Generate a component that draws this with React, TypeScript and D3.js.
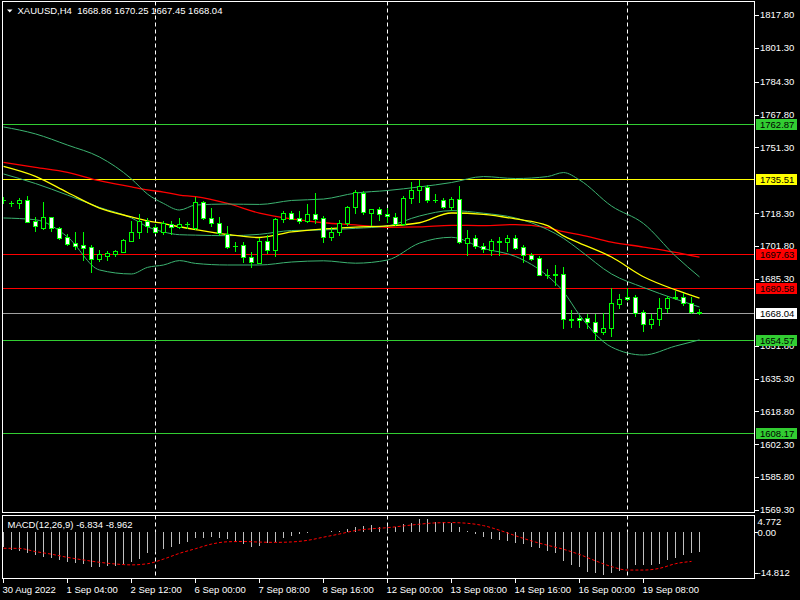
import React from 'react';
import * as d3 from 'd3';

// ---- price data (H4 bars) ----
const open = [1724.68,1723.27,1723.27,1724.93,1714.39,1711.02,1716.25,1710.72,1706.51,1703.19,1702.34,1701.34,1695.31,1696.82,1697.97,1698.98,1704.50,1708.72,1714.54,1711.38,1708.72,1712.73,1711.53,1712.73,1710.72,1723.78,1715.74,1713.23,1707.86,1701.99,1702.19,1696.17,1693.45,1704.35,1699.83,1715.24,1718.25,1715.74,1714.54,1717.75,1715.74,1706.21,1708.72,1713.53,1721.27,1728.29,1718.55,1720.26,1717.75,1716.55,1712.73,1725.78,1729.95,1731.61,1724.93,1724.93,1721.27,1725.43,1703.19,1705.70,1701.84,1699.83,1704.00,1704.00,1705.70,1701.19,1697.32,1695.66,1687.28,1687.63,1687.63,1665.04,1665.54,1665.54,1663.84,1658.82,1660.52,1672.72,1676.09,1676.24,1668.56,1662.53,1665.04,1670.56,1675.88,1676.39,1673.37,1668.86];
const high = [1726.44,1724.43,1726.08,1726.94,1716.40,1723.78,1716.40,1711.53,1707.71,1708.87,1708.87,1702.34,1699.68,1699.48,1699.83,1705.10,1714.39,1717.75,1716.04,1712.88,1714.39,1714.39,1716.04,1714.04,1726.59,1724.58,1720.91,1716.25,1711.88,1704.00,1703.85,1698.83,1705.70,1707.36,1715.64,1719.56,1719.41,1719.41,1722.92,1728.29,1716.90,1711.53,1714.89,1721.92,1729.95,1729.45,1720.41,1721.57,1720.76,1718.55,1726.94,1734.12,1735.12,1732.46,1727.94,1726.08,1726.59,1731.96,1709.87,1707.36,1703.19,1705.35,1706.51,1707.36,1707.36,1702.34,1698.17,1696.82,1690.29,1692.30,1691.15,1669.71,1667.20,1667.70,1667.70,1668.20,1680.60,1677.74,1680.60,1677.24,1669.71,1667.70,1675.58,1676.74,1679.40,1678.09,1676.09,1670.25];
const low = [1723.42,1721.92,1720.91,1713.89,1709.52,1710.37,1709.37,1705.35,1702.34,1700.18,1694.81,1688.94,1694.31,1694.81,1696.97,1698.83,1704.35,1706.00,1709.02,1708.36,1707.71,1707.86,1710.72,1710.72,1710.37,1715.39,1711.88,1707.36,1700.68,1699.48,1693.96,1691.15,1693.30,1698.47,1696.82,1714.04,1715.24,1713.23,1713.89,1713.53,1704.00,1704.85,1707.36,1712.38,1718.25,1717.75,1712.38,1714.89,1714.04,1712.38,1712.38,1723.27,1723.78,1724.08,1724.08,1720.76,1719.91,1703.19,1697.32,1700.68,1698.68,1697.32,1697.32,1699.33,1700.33,1693.66,1694.81,1687.03,1685.62,1682.26,1660.52,1661.33,1661.33,1660.52,1654.65,1657.66,1656.66,1670.56,1674.73,1666.85,1659.32,1660.82,1662.18,1668.86,1675.08,1672.22,1668.35,1667.45];
const close = [1724.93,1723.42,1724.93,1714.04,1711.73,1716.25,1711.02,1705.70,1702.99,1701.84,1700.98,1695.31,1697.82,1698.47,1699.33,1704.85,1708.87,1714.39,1712.03,1708.87,1713.38,1711.53,1712.73,1712.88,1723.78,1715.74,1713.23,1708.21,1701.49,1701.84,1696.17,1693.66,1704.35,1699.83,1715.24,1718.25,1715.54,1714.54,1717.75,1715.54,1706.21,1708.72,1713.53,1721.27,1728.80,1718.76,1720.26,1717.75,1716.75,1712.73,1725.78,1729.95,1731.96,1724.93,1724.78,1721.57,1725.43,1704.00,1705.70,1701.84,1700.33,1704.35,1704.10,1705.70,1700.98,1697.32,1695.31,1687.28,1687.13,1687.48,1665.04,1664.89,1664.69,1663.84,1658.82,1660.52,1673.07,1675.08,1675.08,1668.35,1662.53,1665.19,1670.56,1675.88,1675.98,1673.37,1668.86,1668.04];

// ---- indicator lines, sampled at these bar indices ----
const indIdx = [0,4,8,12,16,18,20,22,24,28,32,36,40,44,48,52,56,60,64,68,70,72,76,80,84,87];
const bbUpper = [1761.6,1758.1,1752.5,1746.5,1735.5,1727.9,1723.2,1719.9,1722.4,1722.9,1722.7,1724.7,1725.4,1728.4,1729.7,1731.5,1733.7,1736.7,1735.7,1736.7,1738.7,1735.0,1721.9,1713.1,1696.8,1686.3];
const bbMiddle = [1738.0,1733.2,1727.4,1721.2,1715.9,1711.5,1708.9,1707.5,1707.3,1707.0,1707.7,1709.6,1709.9,1710.7,1711.9,1716.9,1719.6,1718.3,1715.9,1710.1,1705.7,1699.8,1687.8,1681.0,1675.2,1671.2];
const bbLower = [1715.9,1715.0,1706.4,1689.8,1687.8,1691.1,1692.3,1694.5,1693.1,1692.3,1692.3,1693.8,1694.4,1693.2,1694.8,1703.3,1706.2,1700.6,1696.6,1686.8,1678.9,1667.2,1651.1,1647.1,1651.6,1654.7];
const maYellow = [1741.8,1736.8,1728.7,1720.9,1716.4,1714.4,1713.1,1711.5,1710.1,1707.6,1706.1,1708.9,1710.4,1711.3,1711.9,1713.5,1718.4,1717.7,1715.4,1712.1,1706.9,1703.3,1696.3,1686.4,1679.8,1675.7];
const maRed = [1743.8,1741.3,1738.8,1734.6,1731.5,1730.0,1728.9,1727.4,1726.6,1723.2,1718.3,1715.4,1713.5,1712.4,1711.2,1711.4,1712.2,1712.1,1712.6,1711.1,1709.0,1707.6,1703.8,1701.3,1698.6,1696.2];

// ---- MACD(12,26,9) ----
const macdHist = [-4.97,-6.12,-6.35,-7.28,-7.86,-8.43,-9.01,-9.59,-10.40,-10.75,-11.09,-11.90,-12.13,-11.67,-11.67,-10.98,-10.17,-9.36,-7.28,-6.70,-5.89,-4.97,-4.16,-3.47,-2.08,-2.08,-1.50,-2.08,-2.43,-3.24,-4.16,-4.97,-4.62,-3.81,-3.24,-2.08,-1.27,-0.58,-0.12,0.23,0.12,0.35,0.58,1.04,1.97,2.31,2.43,1.97,2.20,1.97,2.89,3.35,4.60,4.77,3.70,3.47,3.35,1.96,0.58,-0.58,-1.73,-2.43,-2.66,-2.89,-3.58,-4.04,-4.97,-5.55,-6.35,-7.28,-9.82,-11.32,-12.13,-13.63,-14.21,-14.81,-14.21,-13.40,-12.48,-11.32,-11.32,-11.32,-10.98,-9.59,-9.01,-7.86,-7.28,-6.83];
const signalIdx = d3.range(0, 87, 2);
const macdSignal = [-5.55,-5.6,-6.7,-7.6,-8.7,-9.6,-10.4,-11.0,-11.3,-10.9,-9.3,-7.3,-5.7,-4.1,-3.3,-3.2,-3.4,-3.5,-3.35,-2.8,-1.7,-0.6,0.6,1.2,1.6,2.2,2.8,3.25,3.35,3.1,2.3,0.7,-1.2,-3.0,-4.5,-5.9,-7.7,-9.9,-11.9,-13.1,-13.1,-12.5,-10.9,-10.1];

// ---- axes ----
const priceTicks = [1817.8,1801.3,1784.3,1767.8,1751.3,1718.3,1701.8,1685.3,1651.8,1635.3,1618.8,1602.3,1585.8,1569.3];
const dateLabels = ['30 Aug 2022','1 Sep 04:00','2 Sep 12:00','6 Sep 00:00','7 Sep 08:00','8 Sep 16:00','12 Sep 00:00','13 Sep 08:00','14 Sep 16:00','16 Sep 00:00','19 Sep 08:00'];
const dateIdx = [0,8,16,24,32,40,48,56,64,72,80];
const separatorIdx = [19,48,78];
const levelValues = [1762.87,1735.51,1697.63,1680.58,1668.04,1654.57,1608.17];
const levelColors = ['#32CD32','#FFFF00','#FF0000','#FF0000','#A0A0A0','#32CD32','#32CD32'];
const levelBoxColors = ['#32CD32','#FFFF00','#FF0000','#FF0000','#FFFFFF','#32CD32','#32CD32'];
const macdAxisValues = [4.772, 0, -14.812];
const macdAxisLabels = ['4.772','0.00','-14.812'];

const FONT = "'Liberation Sans', Arial, sans-serif";

export default function App() {
  const W = 800, H = 600;
  const L = 2.5, R = 754.5, T = 1.5, B = 512.5;
  const MT = 515.5, MB = 578.5;
  const x = d3.scaleLinear().domain([0, 87]).range([3.5, 699.5]);
  const y = d3.scaleLinear().domain([1569.3, 1817.8]).range([510, 15]);
  const ym = d3.scaleLinear().domain([-14.812, 4.772]).range([575, 518.5]);
  const crisp = (v: number) => Math.round(v) + 0.5;

  const mkLine = (vals: number[]) =>
    d3.line<number>().x((_, k) => x(indIdx[k])).y(d => y(d)).curve(d3.curveMonotoneX)(vals) || '';
  const sigPath = d3.line<number>().x((_, k) => x(signalIdx[k])).y(d => ym(d)).curve(d3.curveMonotoneX)(macdSignal) || '';

  const lime = '#00FF00';
  const bbColor = '#3CB371';

  return (
    <svg width={W} height={H} style={{ position: 'absolute', left: 0, top: 0, display: 'block' }} fontFamily={FONT}>
      <rect x={0} y={0} width={W} height={H} fill="#000" />
      <defs>
        <clipPath id="mainClip"><rect x={L} y={T} width={R - L} height={B - T} /></clipPath>
        <clipPath id="macdClip"><rect x={L} y={MT} width={R - L} height={MB - MT} /></clipPath>
      </defs>

      {/* separators */}
      {separatorIdx.map(i => (
        <g key={'sep' + i}>
          <line x1={x(i)} x2={x(i)} y1={T} y2={B} stroke="#fff" strokeDasharray="4,3" />
          <line x1={x(i)} x2={x(i)} y1={MT} y2={MB} stroke="#fff" strokeDasharray="4,3" />
        </g>
      ))}

      {/* horizontal levels */}
      <g clipPath="url(#mainClip)" shapeRendering="crispEdges">
        {levelValues.map((v, k) => (
          <line key={'lv' + k} x1={L} x2={R} y1={crisp(y(v))} y2={crisp(y(v))} stroke={levelColors[k]} strokeWidth={1} />
        ))}
      </g>

      {/* indicators */}
      <g clipPath="url(#mainClip)" fill="none">
        <path d={mkLine(maRed)} stroke="#FF0000" strokeWidth={1.3} />
        <path d={mkLine(bbUpper)} stroke={bbColor} strokeWidth={1} />
        <path d={mkLine(bbMiddle)} stroke={bbColor} strokeWidth={1} />
        <path d={mkLine(bbLower)} stroke={bbColor} strokeWidth={1} />
        <path d={mkLine(maYellow)} stroke="#FFFF00" strokeWidth={1.3} />
      </g>

      {/* candles */}
      <g clipPath="url(#mainClip)" shapeRendering="crispEdges">
        {open.map((o, i) => {
          const c = close[i];
          const cx = x(i);
          const yo = y(o), yc = y(c);
          const top = Math.round(Math.min(yo, yc));
          const bot = Math.round(Math.max(yo, yc));
          const bull = c >= o;
          return (
            <g key={'c' + i}>
              <line x1={cx} x2={cx} y1={Math.round(y(high[i]))} y2={Math.round(y(low[i])) + 1} stroke={lime} />
              {bot - top < 1 ? (
                <line x1={cx - 2.5} x2={cx + 2.5} y1={top + 0.5} y2={top + 0.5} stroke={lime} />
              ) : (
                <rect x={cx - 2} y={top + 0.5} width={4} height={bot - top} fill={bull ? '#000' : '#fff'} stroke={lime} />
              )}
            </g>
          );
        })}
      </g>

      {/* MACD */}
      <g clipPath="url(#macdClip)">
        <g shapeRendering="crispEdges">
          {macdHist.map((v, i) => (
            <line key={'h' + i} x1={x(i)} x2={x(i)} y1={ym(0)} y2={ym(v)} stroke="#C0C0C0" />
          ))}
        </g>
        <path d={sigPath} fill="none" stroke="#FF0000" strokeWidth={1} strokeDasharray="3,2" />
      </g>

      {/* frames */}
      <g shapeRendering="crispEdges" fill="none" stroke="#fff">
        <rect x={L} y={T} width={R - L} height={B - T} />
        <rect x={L} y={MT} width={R - L} height={MB - MT} />
      </g>

      {/* price axis */}
      <g fontSize={9.5} fill="#fff">
        {priceTicks.map((v, k) => (
          <g key={'pt' + k}>
            <line x1={R} x2={R + 4} y1={crisp(y(v))} y2={crisp(y(v))} stroke="#fff" shapeRendering="crispEdges" />
            <text x={760} y={y(v)} dy="0.35em">{v.toFixed(2)}</text>
          </g>
        ))}
        {levelValues.map((v, k) => {
          const yy = Math.round(y(v));
          return (
            <g key={'lb' + k}>
              <rect x={756} y={yy - 5} width={41} height={11} fill={levelBoxColors[k]} />
              <text x={760} y={yy + 0.5} dy="0.35em" fill="#000">{v.toFixed(2)}</text>
            </g>
          );
        })}
      </g>

      {/* MACD axis */}
      <g fontSize={9.5} fill="#fff">
        {macdAxisValues.map((v, k) => {
          const yy = Math.min(Math.max(ym(v), MT + 6.5), MB - 6);
          return (
            <g key={'ma' + k}>
              {k > 0 && <line x1={R} x2={R + 3} y1={crisp(yy)} y2={crisp(yy)} stroke="#fff" shapeRendering="crispEdges" />}
              <text x={757.5} y={yy} dy="0.35em">{macdAxisLabels[k]}</text>
            </g>
          );
        })}
      </g>

      {/* time axis */}
      <g fontSize={9.5} fill="#fff">
        {dateIdx.map((i, k) => (
          <g key={'d' + k}>
            <line x1={x(i)} x2={x(i)} y1={MB} y2={MB + 4} stroke="#fff" shapeRendering="crispEdges" />
            <text x={x(i) - 1} y={593} >{dateLabels[k]}</text>
          </g>
        ))}
      </g>

      {/* titles */}
      <polygon points="7,9.5 12.5,9.5 9.75,12.5" fill="#fff" />
      <text x={17.5} y={14} fontSize={9.5} fill="#fff" xmlSpace="preserve">{'XAUUSD,H4  1668.86 1670.25 1667.45 1668.04'}</text>
      <text x={7.5} y={528} fontSize={9.5} fill="#fff">MACD(12,26,9) -6.834 -8.962</text>
    </svg>
  );
}
